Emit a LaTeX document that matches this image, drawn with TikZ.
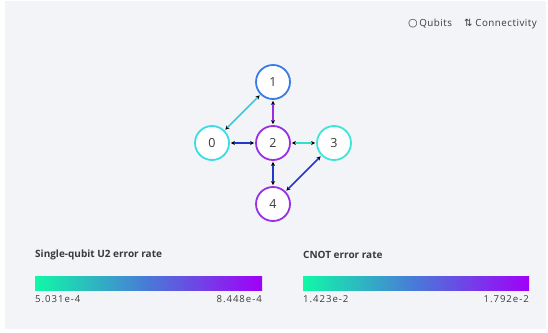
\documentclass[tikz,border=0pt]{standalone}
\usepackage{fontspec}
\setmainfont{Open Sans}
\setsansfont{Open Sans}
\newfontfamily\symfont{DejaVu Sans}
\newfontfamily\lblfont[LetterSpace=10]{Open Sans}
\newfontfamily\legfont[LetterSpace=5]{Open Sans}
\usetikzlibrary{arrows.meta}
\definecolor{bggray}{HTML}{F3F4F8}
\definecolor{txtgray}{HTML}{3A3A3A}
\definecolor{cyanq}{HTML}{3CDCE4}
\definecolor{blueq}{HTML}{3A7CE6}
\definecolor{purpq}{HTML}{9A30E6}
\definecolor{tealq}{HTML}{3EE6D8}
\definecolor{edgeblue}{HTML}{2238C8}
\definecolor{edgecyan}{HTML}{30D0E0}
\definecolor{edgepurp}{HTML}{9A2CE0}
\definecolor{edgeteal}{HTML}{30E0C8}
\definecolor{barA}{HTML}{10F8A8}
\definecolor{barB}{HTML}{4A78D8}
\definecolor{barC}{HTML}{A000F8}
\tikzset{
  x=1pt,y=1pt,
  qubit/.style={circle,draw,line width=1.8pt,fill=white,minimum size=34pt,inner sep=0pt,font=\fontsize{12.5}{13}\selectfont,text=txtgray},
  link/.style={line width=1.6pt,{Stealth[length=4pt,width=4pt,black]}-{Stealth[length=4pt,width=4pt,black]},shorten <=1pt,shorten >=1pt},
  lbl/.style={font=\lblfont\fontsize{9.6}{11}\selectfont,text=txtgray,inner sep=0pt},
  leg/.style={font=\legfont\fontsize{9.8}{11}\selectfont,text=txtgray,inner sep=0pt},
  ttl/.style={font=\fontsize{10}{12}\selectfont\bfseries,text=txtgray,inner sep=0pt,anchor=west}
}
\begin{document}
\begin{tikzpicture}
\useasboundingbox (0,0) rectangle (548,332);
\fill[white] (0,0) rectangle (548,332);
\fill[bggray] (5,3) rectangle (546,331);
% legend
\node[leg,anchor=east] (leg) at (537,308) {{\symfont\fontsize{11}{12}\selectfont ○}\,Qubits\hspace{12pt}{\symfont\fontsize{10}{12}\selectfont ⇅}\hspace{3pt}Connectivity};
% qubits
\node[qubit,draw=blueq] (q1) at (273,250) {1};
\node[qubit,draw=cyanq] (q0) at (212,189) {0};
\node[qubit,draw=purpq] (q2) at (273,189) {2};
\node[qubit,draw=tealq] (q3) at (334,189) {3};
\node[qubit,draw=purpq] (q4) at (273,128) {4};
% links
\draw[link,edgecyan] (q0) -- (q1);
\draw[link,edgepurp] (q1) -- (q2);
\draw[link,edgeblue] (q0) -- (q2);
\draw[link,edgeteal] (q2) -- (q3);
\draw[link,edgeblue] (q2) -- (q4);
\draw[link,edgeblue] (q3) -- (q4);
% colorbars
\node[ttl] (t1) at (35,77) {Single-qubit U2 error rate};
\shade[left color=barA,right color=barC,middle color=barB] (35,42) rectangle (262,56);
\node[lbl,anchor=west] (l1a) at (35,33) {5.031e-4};
\node[lbl,anchor=east] (l1b) at (262,33) {8.448e-4};
\node[ttl] (t2) at (303,77) {CNOT error rate};
\shade[left color=barA,right color=barC,middle color=barB] (303,42) rectangle (529,56);
\node[lbl,anchor=west] (l2a) at (303,33) {1.423e-2};
\node[lbl,anchor=east] (l2b) at (529,33) {1.792e-2};
\end{tikzpicture}
\end{document}
